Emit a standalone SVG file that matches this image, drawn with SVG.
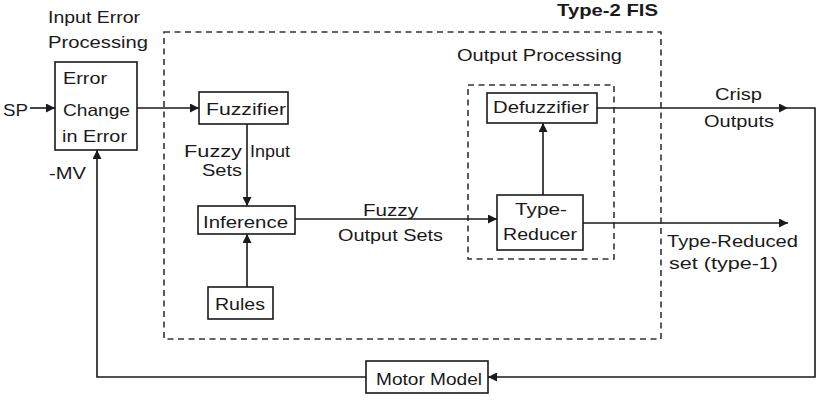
<svg xmlns="http://www.w3.org/2000/svg" width="824" height="401" viewBox="0 0 824 401">
<defs>
<style>
.t{font-family:"Liberation Sans",Arial,sans-serif;font-size:17px;fill:#1a1a1a}
.b{font-weight:bold}
.box{fill:#fff;stroke:#1a1a1a;stroke-width:1.6}
.dash{fill:none;stroke:#333;stroke-width:1.6;stroke-dasharray:6 4.5}
.ln{fill:none;stroke:#1a1a1a;stroke-width:1.6}
</style>
<marker id="ah" viewBox="0 0 10 10" refX="10" refY="5" markerWidth="9" markerHeight="9" markerUnits="userSpaceOnUse" orient="auto">
<path d="M0,0 L10,5 L0,10 z" fill="#1a1a1a"/>
</marker>
</defs>
<rect width="824" height="401" fill="#fff"/>

<g id="regions">
<rect id="fis" class="dash" x="164" y="32" width="497" height="307"/>
<rect id="outproc" class="dash" x="468" y="85" width="146" height="174"/>
<text class="t b" x="557" y="16" textLength="101" lengthAdjust="spacingAndGlyphs">Type-2 FIS</text>
<text class="t" x="457" y="61" textLength="165" lengthAdjust="spacingAndGlyphs">Output Processing</text>
<text class="t" x="48" y="23" textLength="92" lengthAdjust="spacingAndGlyphs">Input Error</text>
<text class="t" x="48" y="48" textLength="100" lengthAdjust="spacingAndGlyphs">Processing</text>
</g>

<g id="connectors">
<path class="ln" d="M30,108 H55" marker-end="url(#ah)"/>
<path class="ln" d="M137,108 H199" marker-end="url(#ah)"/>
<path class="ln" d="M247,124 V206" marker-end="url(#ah)"/>
<path class="ln" d="M247,287 V234" marker-end="url(#ah)"/>
<path class="ln" d="M295,219 H497" marker-end="url(#ah)"/>
<path class="ln" d="M543,195 V123" marker-end="url(#ah)"/>
<path class="ln" d="M597,108 H788" marker-end="url(#ah)"/>
<path class="ln" d="M788,108 H815 V377 H488" marker-end="url(#ah)"/>
<path class="ln" d="M583,223 H788" marker-end="url(#ah)"/>
<path class="ln" d="M366,377 H97 V150" marker-end="url(#ah)"/>
<text class="t" x="3" y="116" textLength="25" lengthAdjust="spacingAndGlyphs">SP</text>
<text class="t" x="49" y="179" textLength="37" lengthAdjust="spacingAndGlyphs">-MV</text>
<text class="t" x="184" y="157" textLength="58" lengthAdjust="spacingAndGlyphs">Fuzzy</text>
<text class="t" x="250" y="157" textLength="40" lengthAdjust="spacingAndGlyphs">Input</text>
<text class="t" x="202" y="176" textLength="40" lengthAdjust="spacingAndGlyphs">Sets</text>
<text class="t" x="363" y="216" textLength="55" lengthAdjust="spacingAndGlyphs">Fuzzy</text>
<text class="t" x="338" y="241" textLength="105" lengthAdjust="spacingAndGlyphs">Output Sets</text>
<text class="t" x="715" y="100" textLength="47" lengthAdjust="spacingAndGlyphs">Crisp</text>
<text class="t" x="704" y="127" textLength="70" lengthAdjust="spacingAndGlyphs">Outputs</text>
<text class="t" x="667" y="247" textLength="131" lengthAdjust="spacingAndGlyphs">Type-Reduced</text>
<text class="t" x="669" y="269" textLength="109" lengthAdjust="spacingAndGlyphs">set (type-1)</text>
</g>

<g id="error">
<rect class="box" x="55" y="62" width="82" height="88"/>
<text class="t" x="63" y="84" textLength="44" lengthAdjust="spacingAndGlyphs">Error</text>
<text class="t" x="63" y="116" textLength="67" lengthAdjust="spacingAndGlyphs">Change</text>
<text class="t" x="62" y="142" textLength="65" lengthAdjust="spacingAndGlyphs">in Error</text>
</g>

<g id="fuzzifier">
<rect class="box" x="199" y="92" width="89" height="32"/>
<text class="t" x="206" y="115" textLength="80" lengthAdjust="spacingAndGlyphs">Fuzzifier</text>
</g>

<g id="inference">
<rect class="box" x="198" y="206" width="97" height="28"/>
<text class="t" x="203" y="228" textLength="85" lengthAdjust="spacingAndGlyphs">Inference</text>
</g>

<g id="rules">
<rect class="box" x="208" y="287" width="65" height="32"/>
<text class="t" x="215" y="310" textLength="50" lengthAdjust="spacingAndGlyphs">Rules</text>
</g>

<g id="typereducer">
<rect class="box" x="497" y="195" width="86" height="55"/>
<text class="t" x="515" y="215" textLength="52" lengthAdjust="spacingAndGlyphs">Type-</text>
<text class="t" x="503" y="240" textLength="74" lengthAdjust="spacingAndGlyphs">Reducer</text>
</g>

<g id="defuzzifier">
<rect class="box" x="487" y="93" width="110" height="30"/>
<text class="t" x="493" y="113" textLength="96" lengthAdjust="spacingAndGlyphs">Defuzzifier</text>
</g>

<g id="motor">
<rect class="box" x="366" y="361" width="122" height="32"/>
<text class="t" x="376" y="385" textLength="106" lengthAdjust="spacingAndGlyphs">Motor Model</text>
</g>
</svg>
